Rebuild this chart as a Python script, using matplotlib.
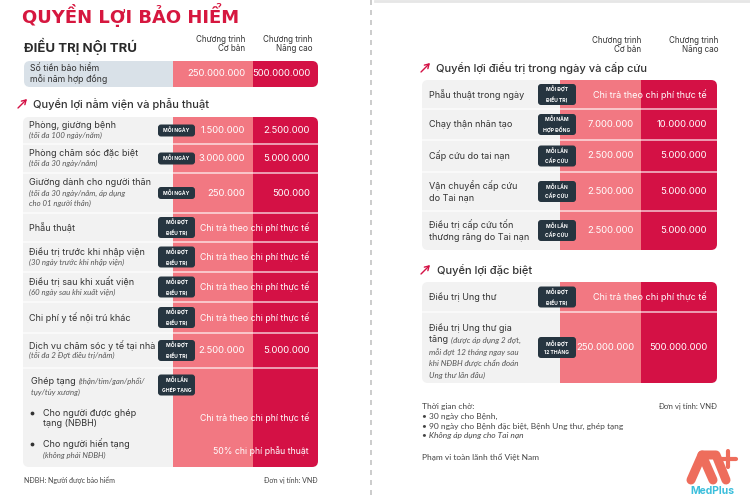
import matplotlib.pyplot as plt
from matplotlib.patches import FancyBboxPatch, Rectangle

# ---- nội dung ----
tieu_de = "QUYỀN LỢI BẢO HIỂM"
cot_co_ban = "Chương trình\nCơ bản"
cot_nang_cao = "Chương trình\nNăng cao"
thuc_te = "Chi trả theo chi phí thực tế"

tong_stbh = ["250.000.000", "500.000.000"]

# Quyền lợi nằm viện và phẫu thuật
nv_ten = ["Phòng, giường bệnh", "Phòng chăm sóc đặc biệt", "Giường dành cho người thân",
          "Phẫu thuật", "Điều trị trước khi nhập viện", "Điều trị sau khi xuất viện",
          "Chi phí y tế nội trú khác", "Dịch vụ chăm sóc y tế tại nhà"]
nv_ghichu = ["(tối đa 100 ngày/năm)", "(tối đa 30 ngày/năm)",
             "(tối đa 30 ngày/năm, áp dụng\ncho 01 người thân)", "",
             "(30 ngày trước khi nhập viện)", "(60 ngày sau khi xuất viện)", "",
             "(tối đa 2 Đợt điều trị/năm)"]
nv_nhan = ["MỖI NGÀY", "MỖI NGÀY", "MỖI NGÀY", "MỖI ĐỢT\nĐIỀU TRỊ", "MỖI ĐỢT\nĐIỀU TRỊ",
           "MỖI ĐỢT\nĐIỀU TRỊ", "MỖI ĐỢT\nĐIỀU TRỊ", "MỖI ĐỢT\nĐIỀU TRỊ"]
nv_co_ban = ["1.500.000", "3.000.000", "250.000", None, None, None, None, "2.500.000"]
nv_nang_cao = ["2.500.000", "5.000.000", "500.000", None, None, None, None, "5.000.000"]

# Quyền lợi điều trị trong ngày và cấp cứu
cc_ten = ["Phẫu thuật trong ngày", "Chạy thận nhân tạo", "Cấp cứu do tai nạn",
          "Vận chuyển cấp cứu\ndo Tai nạn", "Điều trị cấp cứu tốn\nthương răng do Tai nạn"]
cc_nhan = ["MỖI ĐỢT\nĐIỀU TRỊ", "MỖI NĂM\nHỢP ĐỒNG", "MỖI LẦN\nCẤP CỨU", "MỖI LẦN\nCẤP CỨU", "MỖI LẦN\nCẤP CỨU"]
cc_co_ban = [None, "7.000.000", "2.500.000", "2.500.000", "2.500.000"]
cc_nang_cao = [None, "10.000.000", "5.000.000", "5.000.000", "5.000.000"]

# Quyền lợi đặc biệt
db_nhan = ["MỖI ĐỢT\nĐIỀU TRỊ", "MỖI ĐỢT\n12 THÁNG"]
db_co_ban = [None, "250.000.000"]
db_nang_cao = [None, "500.000.000"]

thoi_gian_cho = ["• 30 ngày cho Bệnh,", "• 90 ngày cho Bệnh đặc biệt, Bệnh Ung thư, ghép tạng",
                 "• Không áp dụng cho Tai nạn"]

# ---- màu ----
DO = "#d41145"
HONG = "#f27882"
XAM = "#f2f2f2"
XANH_XAM = "#d9e1e8"
NHAN = "#263540"
CHU = "#333333"
CHU_NHAT = "#555555"

FONT = "Inter"
FONT_NGHIENG = "Lato"

fig = plt.figure(figsize=(7.5, 5), dpi=100)
ax = fig.add_axes([0, 0, 1, 1])
ax.set_xlim(0, 750)
ax.set_ylim(500, 0)
ax.axis("off")


def txt(x, y, s, size=6.5, color=CHU, ha="left", weight="normal", style="normal", family=FONT, **kw):
    fam = FONT_NGHIENG if style == "italic" else family
    return ax.text(x, y, s, fontsize=size, color=color, ha=ha, va="center", fontweight=weight,
                   fontstyle=style, family=fam, **kw)


def nhan(xc, yc, s, w=37):
    h = 12 if "\n" not in s else 21
    ax.add_patch(FancyBboxPatch((xc - w / 2 + 3, yc - h / 2 + 3), w - 6, h - 6,
                                boxstyle="round,pad=3", fc=NHAN, ec="none", zorder=5))
    ax.text(xc, yc, s, fontsize=3.6, color="white", ha="center", va="center", fontweight="bold",
            family=FONT, linespacing=1.7, zorder=6)


def bang(x0, x1, xa, xb, bien, nen=XAM):
    y0, y1 = bien[0], bien[-1]
    nen_bo = FancyBboxPatch((x0 + 6, y0 + 6), x1 - x0 - 12, y1 - y0 - 12,
                            boxstyle="round,pad=6", fc=nen, ec="none", zorder=1)
    ax.add_patch(nen_bo)
    for xl, xr, c in [(xa, xb, HONG), (xb, x1, DO)]:
        r = Rectangle((xl, y0), xr - xl, y1 - y0, fc=c, ec="none", zorder=2)
        ax.add_patch(r)
        r.set_clip_path(nen_bo)
    for yy in bien[1:-1]:
        ax.plot([x0, x1], [yy, yy], color="white", lw=1.1, alpha=0.75, zorder=3)


def mui_ten(x, y):
    ax.annotate("", xy=(x + 9, y - 5), xytext=(x, y + 4),
                arrowprops=dict(arrowstyle="->,head_length=0.3,head_width=0.18", color=DO, lw=1.0,
                                shrinkA=0, shrinkB=0))


# ================= TRÁI =================
txt(22, 15, tieu_de, size=13, color="#d6173f", weight="bold", family="Liberation Sans Narrow")
ax.plot([371, 371], [0, 500], color="#c4c4c4", lw=1.2, ls=(0, (3, 3)))

txt(24, 46, "ĐIỀU TRỊ NỘI TRÚ", size=9.5, weight="bold", color="#2a2a2a")
txt(245, 44, cot_co_ban, size=5.8, ha="right", linespacing=1.1)
txt(312, 44, cot_nang_cao, size=5.8, ha="right", linespacing=1.1)

bang(24, 318, 173, 253, [61, 87], nen=XANH_XAM)
txt(30, 74, "Số tiền bảo hiểm\nmỗi năm hợp đồng", size=6.3, linespacing=1.25)
txt(245, 74, tong_stbh[0], size=6.8, color="white", ha="right", zorder=6)
txt(310, 74, tong_stbh[1], size=6.8, color="white", ha="right", zorder=6)

mui_ten(18, 104)
txt(33, 104, "Quyền lợi nằm viện và phẫu thuật", size=8, weight="medium")

bien_nv = [117, 144, 173, 213, 242, 272, 302, 333, 368, 467]
bang(23, 318, 173, 253, bien_nv)
LH = 10.8
for i, ten in enumerate(nv_ten):
    yc = (bien_nv[i] + bien_nv[i + 1]) / 2
    ghi = nv_ghichu[i].split("\n") if nv_ghichu[i] else []
    n = 1 + len(ghi)
    y = yc - (n - 1) * LH / 2
    txt(29, y, ten, size=6.5, zorder=6)
    for k, g in enumerate(ghi):
        txt(29, y + (k + 1) * LH, g, size=5.6, style="italic", color=CHU_NHAT, zorder=6)
    nhan(176.5, yc, nv_nhan[i])
    if nv_co_ban[i] is None:
        txt(309, yc, thuc_te, size=6.3, color="white", ha="right", zorder=6)
    else:
        txt(245, yc, nv_co_ban[i], size=6.8, color="white", ha="right", zorder=6)
        txt(310, yc, nv_nang_cao[i], size=6.8, color="white", ha="right", zorder=6)

# Ghép tạng
r = fig.canvas.get_renderer()
t = txt(31, 381, "Ghép tạng ", size=6.5, zorder=6)
bb = t.get_window_extent(r)
txt(31 + bb.width, 381, "(thận/tim/gan/phổi/", size=5.6, style="italic", color=CHU_NHAT, zorder=6)
txt(31, 392, "tụy/tủy xương)", size=5.6, style="italic", color=CHU_NHAT, zorder=6)
nhan(176.5, 385, "MỖI LẦN\nGHÉP TẠNG")
ax.scatter([32, 32], [413, 444], s=3, color=CHU, zorder=6)
txt(43, 413, "Cho người được ghép", size=6.5, zorder=6)
txt(43, 424, "tạng (NĐBH)", size=6.5, zorder=6)
txt(43, 444, "Cho người hiến tạng", size=6.5, zorder=6)
txt(43, 455, "(không phải NĐBH)", size=5.6, style="italic", color=CHU_NHAT, zorder=6)
txt(309, 418, thuc_te, size=6.3, color="white", ha="right", zorder=6)
txt(309, 451, "50% chi phí phẫu thuật", size=6.3, color="white", ha="right", zorder=6)

txt(24, 480, "NĐBH: Người được bảo hiểm", size=5.0, color="#444444", family=FONT_NGHIENG)
txt(318, 480, "Đơn vị tính: VNĐ", size=5.0, color="#444444", ha="right", family=FONT_NGHIENG)

# ================= PHẢI =================
ax.plot([375, 750], [1, 1], color="#e6e6e6", lw=2)
txt(641, 45, cot_co_ban, size=5.8, ha="right", linespacing=1.1)
txt(718, 45, cot_nang_cao, size=5.8, ha="right", linespacing=1.1)

mui_ten(421, 68)
txt(436, 68, "Quyền lợi điều trị trong ngày và cấp cứu", size=8, weight="medium")

bien_cc = [80, 109, 140, 172, 211, 250]
bang(422, 717, 560, 641, bien_cc)
for i, ten in enumerate(cc_ten):
    yc = (bien_cc[i] + bien_cc[i + 1]) / 2
    txt(429, yc, ten, size=6.5, linespacing=1.35, zorder=6)
    nhan(557, yc, cc_nhan[i], w=38)
    if cc_co_ban[i] is None:
        txt(707, yc, thuc_te, size=6.5, color="white", ha="right", zorder=6)
    else:
        txt(634, yc, cc_co_ban[i], size=6.8, color="white", ha="right", zorder=6)
        txt(707, yc, cc_nang_cao[i], size=6.8, color="white", ha="right", zorder=6)

mui_ten(421, 270)
txt(437, 270, "Quyền lợi đặc biệt", size=8, weight="medium")

bien_db = [282, 312, 383]
bang(422, 717, 560, 641, bien_db)
txt(429, 297, "Điều trị Ung thư", size=6.5, zorder=6)
txt(429, 328, "Điều trị Ung thư gia", size=6.5, zorder=6)
t = txt(429, 340, "tăng ", size=6.5, zorder=6)
bb = t.get_window_extent(r)
txt(429 + bb.width, 340, "(được áp dụng 2 đợt,", size=5.8, style="italic", color=CHU_NHAT, zorder=6)
txt(429, 352, "mỗi đợt 12 tháng ngay sau", size=5.8, style="italic", color=CHU_NHAT, zorder=6)
txt(429, 363.5, "khi NĐBH được chẩn đoán", size=5.8, style="italic", color=CHU_NHAT, zorder=6)
txt(429, 375, "Ung thư lần đầu)", size=5.8, style="italic", color=CHU_NHAT, zorder=6)
for i in range(2):
    yc = (bien_db[i] + bien_db[i + 1]) / 2
    nhan(557, yc, db_nhan[i], w=38)
    if db_co_ban[i] is None:
        txt(707, yc, thuc_te, size=6.5, color="white", ha="right", zorder=6)
    else:
        txt(634, yc, db_co_ban[i], size=6.8, color="white", ha="right", zorder=6)
        txt(707, yc, db_nang_cao[i], size=6.8, color="white", ha="right", zorder=6)

txt(422, 407, "Thời gian chờ:", size=6.0, color="#444444", family=FONT_NGHIENG)
for k, s in enumerate(thoi_gian_cho):
    txt(422, 416.5 + k * 9.5, s, size=6.0, color="#444444", family=FONT_NGHIENG,
        style="italic" if k == 2 else "normal")
txt(717, 407, "Đơn vị tính: VNĐ", size=5.6, color="#444444", ha="right", family=FONT_NGHIENG)
txt(422, 457, "Phạm vi toàn lãnh thổ Việt Nam", size=6.0, color="#444444", family=FONT_NGHIENG)

# logo MedPlus
CAM = "#ee6d5c"
ax.plot([691, 702, 713], [480, 455, 480], color=CAM, lw=6.5, solid_capstyle="round", solid_joinstyle="round")
ax.plot([702, 716, 726], [455, 455, 480], color=CAM, lw=6.5, solid_capstyle="round", solid_joinstyle="round")
ax.plot([728, 728], [451, 467], color=CAM, lw=3, solid_capstyle="round")
ax.plot([720, 736], [459, 459], color=CAM, lw=3, solid_capstyle="round")
txt(712, 491, "MedPlus", size=7.5, color="#3cbfdc", ha="center", weight="bold")

fig.savefig("out.png", dpi=100)
